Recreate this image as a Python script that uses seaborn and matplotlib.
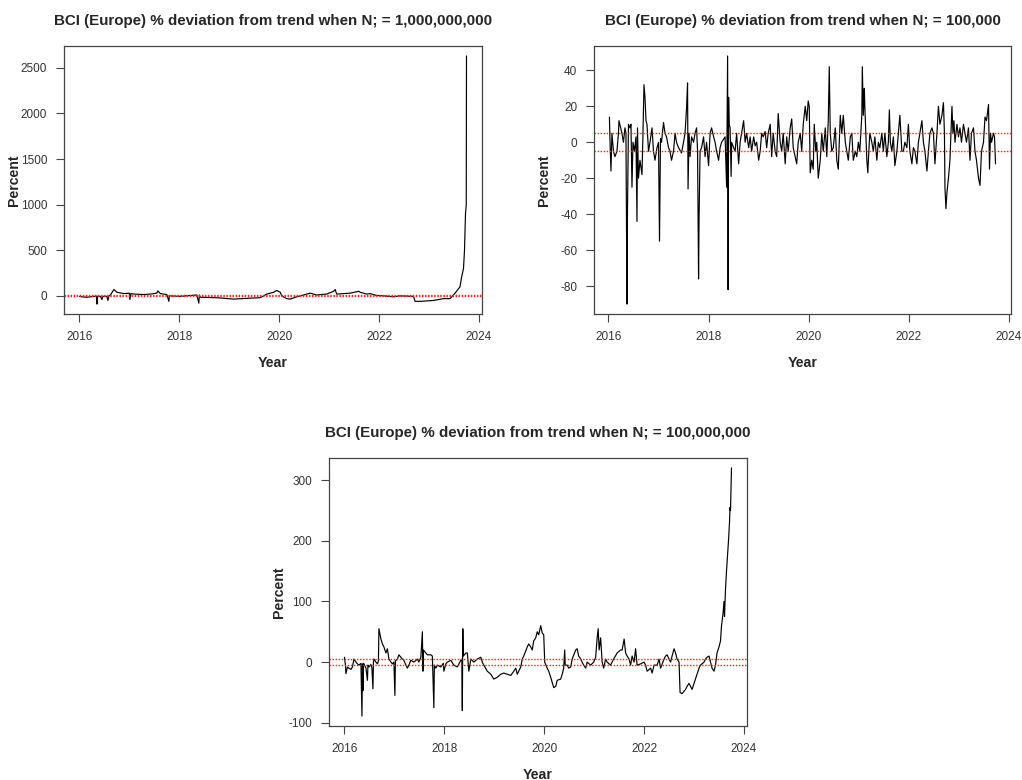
import numpy as np
import pandas as pd
import matplotlib
matplotlib.use("Agg")
import matplotlib.pyplot as plt
import seaborn as sns

# ---------------------------------------------------------------------------
# BCI (Europe) percentage deviation from an HP trend, for three smoothing
# parameters.  Times are decimal years.
# ---------------------------------------------------------------------------

# N = 1,000,000,000
t_1e9 = [2016.00, 2016.05, 2016.15, 2016.29, 2016.34, 2016.35, 2016.36, 2016.42,
         2016.45, 2016.47, 2016.55, 2016.57, 2016.59, 2016.62, 2016.69, 2016.75,
         2016.89, 2017.00, 2017.01, 2017.03, 2017.09, 2017.29, 2017.42, 2017.55,
         2017.57, 2017.62, 2017.75, 2017.79, 2017.80, 2018.02, 2018.35, 2018.39,
         2018.40, 2018.42, 2018.75, 2019.09, 2019.42, 2019.62, 2019.75, 2019.89,
         2019.95, 2020.02, 2020.05, 2020.15, 2020.22, 2020.35, 2020.42, 2020.62,
         2020.75, 2020.95, 2021.09, 2021.12, 2021.15, 2021.42, 2021.59, 2021.62,
         2021.75, 2021.82, 2021.95, 2022.09, 2022.29, 2022.42, 2022.69, 2022.72,
         2022.82, 2023.09, 2023.29, 2023.42, 2023.49, 2023.55, 2023.62, 2023.65,
         2023.69, 2023.71, 2023.73, 2023.745, 2023.75]
v_1e9 = [-5, -10, -15, -5, -3, -90, -5, -5,
         -40, -5, -5, -50, 0, 10, 70, 40,
         25, 30, -40, 25, 20, 15, 20, 30,
         55, 25, 15, -60, 0, -5, 10, -80,
         10, -15, -20, -35, -25, -20, 20, 40,
         60, 40, 0, -30, -35, -10, 0, 30,
         10, 20, 50, 70, 20, 30, 50, 40,
         20, 25, 5, 0, -10, 0, -5, -60,
         -60, -50, -30, -30, 10, 50, 100, 200,
         300, 500, 900, 1000, 2630]

# N = 100,000
t_1e5 = [2016.02, 2016.03, 2016.05, 2016.07, 2016.10, 2016.13, 2016.17, 2016.20,
         2016.21, 2016.27, 2016.30, 2016.33, 2016.35, 2016.37, 2016.38, 2016.40,
         2016.43, 2016.45, 2016.47, 2016.49, 2016.52, 2016.55, 2016.57, 2016.58,
         2016.60, 2016.63, 2016.67, 2016.69, 2016.71, 2016.73, 2016.75, 2016.77,
         2016.80, 2016.83, 2016.87, 2016.90, 2016.93, 2016.97, 2017.00, 2017.02,
         2017.03, 2017.04, 2017.06, 2017.10, 2017.13, 2017.16, 2017.20, 2017.23,
         2017.26, 2017.30, 2017.33, 2017.36, 2017.40, 2017.46, 2017.50, 2017.53,
         2017.56, 2017.58, 2017.59, 2017.61, 2017.63, 2017.66, 2017.70, 2017.73,
         2017.76, 2017.78, 2017.80, 2017.81, 2017.83, 2017.86, 2017.90, 2017.93,
         2017.96, 2018.00, 2018.03, 2018.06, 2018.10, 2018.13, 2018.16, 2018.20,
         2018.23, 2018.26, 2018.33, 2018.36, 2018.38, 2018.39, 2018.40, 2018.41,
         2018.43, 2018.45, 2018.46, 2018.50, 2018.53, 2018.56, 2018.60, 2018.63,
         2018.66, 2018.70, 2018.73, 2018.76, 2018.80, 2018.83, 2018.86, 2018.90,
         2018.93, 2018.96, 2019.00, 2019.03, 2019.06, 2019.09, 2019.13, 2019.16,
         2019.19, 2019.23, 2019.26, 2019.29, 2019.33, 2019.36, 2019.39, 2019.43,
         2019.46, 2019.49, 2019.53, 2019.56, 2019.59, 2019.63, 2019.66, 2019.69,
         2019.73, 2019.76, 2019.79, 2019.83, 2019.86, 2019.89, 2019.93, 2019.96,
         2019.99, 2020.01, 2020.03, 2020.06, 2020.09, 2020.11, 2020.14, 2020.16,
         2020.19, 2020.23, 2020.26, 2020.29, 2020.33, 2020.36, 2020.39, 2020.41,
         2020.43, 2020.46, 2020.49, 2020.53, 2020.56, 2020.59, 2020.63, 2020.66,
         2020.69, 2020.73, 2020.76, 2020.79, 2020.83, 2020.86, 2020.89, 2020.93,
         2020.96, 2020.99, 2021.02, 2021.06, 2021.07, 2021.09, 2021.11, 2021.12,
         2021.16, 2021.18, 2021.20, 2021.22, 2021.26, 2021.29, 2021.32, 2021.36,
         2021.39, 2021.42, 2021.46, 2021.49, 2021.52, 2021.56, 2021.59, 2021.61,
         2021.63, 2021.66, 2021.69, 2021.72, 2021.76, 2021.79, 2021.82, 2021.86,
         2021.89, 2021.92, 2021.96, 2021.99, 2022.02, 2022.06, 2022.09, 2022.12,
         2022.16, 2022.19, 2022.22, 2022.26, 2022.29, 2022.32, 2022.36, 2022.39,
         2022.42, 2022.46, 2022.49, 2022.52, 2022.56, 2022.59, 2022.62, 2022.66,
         2022.69, 2022.71, 2022.72, 2022.74, 2022.76, 2022.79, 2022.82, 2022.86,
         2022.88, 2022.90, 2022.92, 2022.96, 2022.99, 2023.02, 2023.05, 2023.09,
         2023.12, 2023.15, 2023.19, 2023.22, 2023.25, 2023.29, 2023.32, 2023.35,
         2023.39, 2023.42, 2023.45, 2023.49, 2023.52, 2023.55, 2023.59, 2023.61,
         2023.63, 2023.65, 2023.69, 2023.71, 2023.73]
v_1e5 = [14, 2, -16, 5, -5, -8, -5, 5,
         12, 5, 0, 8, 5, -90, -40, 10,
         8, 10, -25, 0, -5, 3, -44, 8,
         -20, -10, -18, 5, 32, 25, 12, 10,
         -5, 0, 8, -5, -10, -3, 0, -55,
         -28, 2, 0, 11, 5, 3, -3, -5,
         -10, -5, 5, 0, -3, -6, 0, 5,
         19, 33, -26, 5, -8, 3, 0, 5,
         8, -5, -76, -42, -5, -3, 3, -8,
         0, -13, 5, 8, 3, 0, -5, -10,
         -3, 0, 3, -25, 48, -82, 25, 10,
         8, -19, 0, -3, -5, 5, -12, 0,
         5, 12, 0, 5, -3, 3, -5, 3,
         -2, 0, -10, -5, 5, 3, 6, -3,
         5, 10, -8, 5, -5, -8, 16, 0,
         -5, 5, -12, 3, -5, 8, 13, -3,
         -8, -12, 0, 5, -5, 10, 20, 12,
         23, 20, -17, -10, -15, 10, -5, 0,
         -20, -10, 5, -5, 8, -8, 12, 42,
         5, -5, -3, 8, -10, -15, 15, 5,
         15, 0, -5, -10, 3, 5, -10, -5,
         -8, 0, -5, 15, 42, 15, 30, 20,
         -10, -17, -5, 5, 0, -5, 3, -10,
         0, -3, 5, -5, 5, -8, 0, 18,
         0, -5, 3, -13, -5, 5, 15, -5,
         -5, 0, -3, 10, -5, -12, -3, -5,
         -12, 0, 5, 12, 0, -5, -16, -5,
         5, 8, 5, -12, 5, 20, 10, 15,
         22, 5, -25, -37, -28, -20, -10, 20,
         5, 12, 0, 10, 3, 8, 0, 10,
         5, 0, 8, -10, 5, 8, -5, -10,
         -20, -24, -5, 0, 14, 12, 21, -15,
         5, 0, 5, 3, -12]

# N = 100,000,000
t_1e8 = [2016.00, 2016.02, 2016.03, 2016.06, 2016.09, 2016.13, 2016.16, 2016.19,
         2016.23, 2016.26, 2016.29, 2016.33, 2016.35, 2016.36, 2016.37, 2016.38,
         2016.39, 2016.43, 2016.46, 2016.47, 2016.49, 2016.53, 2016.55, 2016.57,
         2016.58, 2016.59, 2016.63, 2016.66, 2016.68, 2016.69, 2016.73, 2016.76,
         2016.79, 2016.83, 2016.86, 2016.89, 2016.93, 2016.96, 2016.99, 2017.01,
         2017.02, 2017.06, 2017.09, 2017.13, 2017.16, 2017.19, 2017.23, 2017.26,
         2017.29, 2017.33, 2017.39, 2017.46, 2017.49, 2017.53, 2017.56, 2017.57,
         2017.58, 2017.63, 2017.66, 2017.73, 2017.76, 2017.79, 2017.80, 2017.83,
         2017.86, 2017.93, 2017.98, 2017.99, 2018.03, 2018.06, 2018.13, 2018.19,
         2018.26, 2018.33, 2018.35, 2018.36, 2018.37, 2018.38, 2018.43, 2018.46,
         2018.49, 2018.53, 2018.59, 2018.66, 2018.73, 2018.76, 2018.79, 2018.86,
         2018.93, 2018.99, 2019.06, 2019.13, 2019.19, 2019.26, 2019.33, 2019.39,
         2019.43, 2019.46, 2019.53, 2019.56, 2019.59, 2019.66, 2019.69, 2019.73,
         2019.76, 2019.79, 2019.83, 2019.86, 2019.89, 2019.93, 2019.96, 2019.99,
         2020.01, 2020.06, 2020.09, 2020.13, 2020.19, 2020.23, 2020.26, 2020.33,
         2020.36, 2020.39, 2020.41, 2020.42, 2020.46, 2020.49, 2020.53, 2020.56,
         2020.63, 2020.66, 2020.69, 2020.73, 2020.79, 2020.83, 2020.86, 2020.93,
         2020.99, 2021.03, 2021.06, 2021.08, 2021.10, 2021.13, 2021.16, 2021.19,
         2021.23, 2021.26, 2021.33, 2021.39, 2021.46, 2021.53, 2021.56, 2021.60,
         2021.63, 2021.66, 2021.70, 2021.73, 2021.76, 2021.80, 2021.83, 2021.86,
         2021.93, 2022.00, 2022.03, 2022.06, 2022.13, 2022.16, 2022.20, 2022.26,
         2022.30, 2022.33, 2022.40, 2022.43, 2022.46, 2022.50, 2022.53, 2022.56,
         2022.60, 2022.63, 2022.66, 2022.70, 2022.72, 2022.76, 2022.80, 2022.83,
         2022.86, 2022.90, 2022.93, 2022.96, 2023.00, 2023.06, 2023.10, 2023.13,
         2023.20, 2023.23, 2023.26, 2023.30, 2023.33, 2023.36, 2023.40, 2023.43,
         2023.46, 2023.50, 2023.53, 2023.55, 2023.58, 2023.60, 2023.61, 2023.63,
         2023.65, 2023.67, 2023.69, 2023.71, 2023.72, 2023.73, 2023.75]
v_1e8 = [8, -5, -19, -8, -10, -12, -8, 5,
         0, -3, -5, -2, -89, -3, -47, -2,
         -3, -10, -30, -5, -8, -4, -10, -44,
         0, 5, 0, -3, 2, 55, 38, 30,
         25, 15, 22, 5, 0, -3, 0, -55,
         2, 5, 12, 8, 5, 3, -5, -10,
         -5, 3, 0, 5, 0, 8, 50, -15,
         20, 15, 12, 12, 10, -75, -5, -10,
         -5, -8, -2, -15, -3, 0, 3, -5,
         -8, 3, 5, -80, 55, 10, 15, 15,
         -15, 5, 0, 5, 8, 0, -5, -15,
         -20, -28, -25, -20, -18, -20, -22, -15,
         -10, -20, -8, 5, 10, 25, 30, 25,
         20, 35, 40, 50, 45, 60, 48, 45,
         0, -10, -15, -25, -42, -40, -30, -28,
         -20, -10, 20, -5, -5, -10, -8, 5,
         20, 22, 10, 5, -5, -10, 0, -5,
         0, 8, 40, 55, 20, 40, 0, -10,
         5, 0, -5, 5, 15, 20, 20, 38,
         15, 10, 5, -5, 10, 0, 22, -5,
         -3, 0, -5, -15, -10, -18, -5, -5,
         5, -10, 5, 10, 12, 5, 0, 10,
         22, 15, 5, 0, -50, -52, -48, -45,
         -40, -35, -40, -45, -35, -20, -10, -5,
         0, 5, 8, 10, 0, -10, -15, -5,
         15, 25, 35, 60, 80, 100, 75, 120,
         150, 175, 200, 230, 255, 250, 320]

# Tolerance band drawn as dotted reference lines
band = [-5, 5]

titles = ["BCI (Europe) % deviation from trend when N; = 1,000,000,000",
          "BCI (Europe) % deviation from trend when N; = 100,000",
          "BCI (Europe) % deviation from trend when N; = 100,000,000"]
x_ticks = [2016, 2018, 2020, 2022, 2024]
y_ticks = [[0, 500, 1000, 1500, 2000, 2500],
           [-80, -60, -40, -20, 0, 20, 40],
           [-100, 0, 100, 200, 300]]

sns.set_style("ticks")
plt.rcParams["font.family"] = ["Liberation Sans", "DejaVu Sans"]
plt.rcParams["axes.unicode_minus"] = False

fig = plt.figure(figsize=(10.22, 7.80), dpi=100)
positions = [[0.0626, 0.5974, 0.409, 0.3436],
             [0.5812, 0.5974, 0.408, 0.3436],
             [0.3219, 0.0692, 0.409, 0.3436]]
series = [(t_1e9, v_1e9), (t_1e5, v_1e5), (t_1e8, v_1e8)]

for pos, (t, v), title, yt in zip(positions, series, titles, y_ticks):
    ax = fig.add_axes(pos)
    df = pd.DataFrame({"Year": t, "Percent": v})
    sns.lineplot(data=df, x="Year", y="Percent", ax=ax, color="black",
                 linewidth=0.85, estimator=None, sort=False)
    for lvl in band:
        ax.axhline(lvl, color="#ff1a1a", linewidth=1.0, linestyle=(0, (1, 1.2)))

    # R-style 4% padding around the data range
    tx, vy = np.asarray(t), np.asarray(v)
    px = 0.04 * (tx.max() - tx.min())
    py = 0.04 * (vy.max() - vy.min())
    ax.set_xlim(tx.min() - px, tx.max() + px)
    ax.set_ylim(vy.min() - py, vy.max() + py)

    ax.set_xticks(x_ticks)
    ax.set_yticks(yt)
    ax.tick_params(direction="out", length=6, width=0.8, pad=6,
                   labelsize=8.5, colors="#444444", labelcolor="#333333")
    for s in ax.spines.values():
        s.set_visible(True)
        s.set_color("#444444")
        s.set_linewidth(0.9)

    ax.set_title(title, fontsize=10.9, fontweight="bold", pad=15)
    ax.set_xlabel("Year", fontsize=10.2, fontweight="bold")
    ax.set_ylabel("Percent", fontsize=10.2, fontweight="bold")
    ax.yaxis.set_label_coords(-0.102, 0.5)
    ax.xaxis.set_label_coords(0.5, -0.155)

fig.savefig("out.png", dpi=100, facecolor="white")
